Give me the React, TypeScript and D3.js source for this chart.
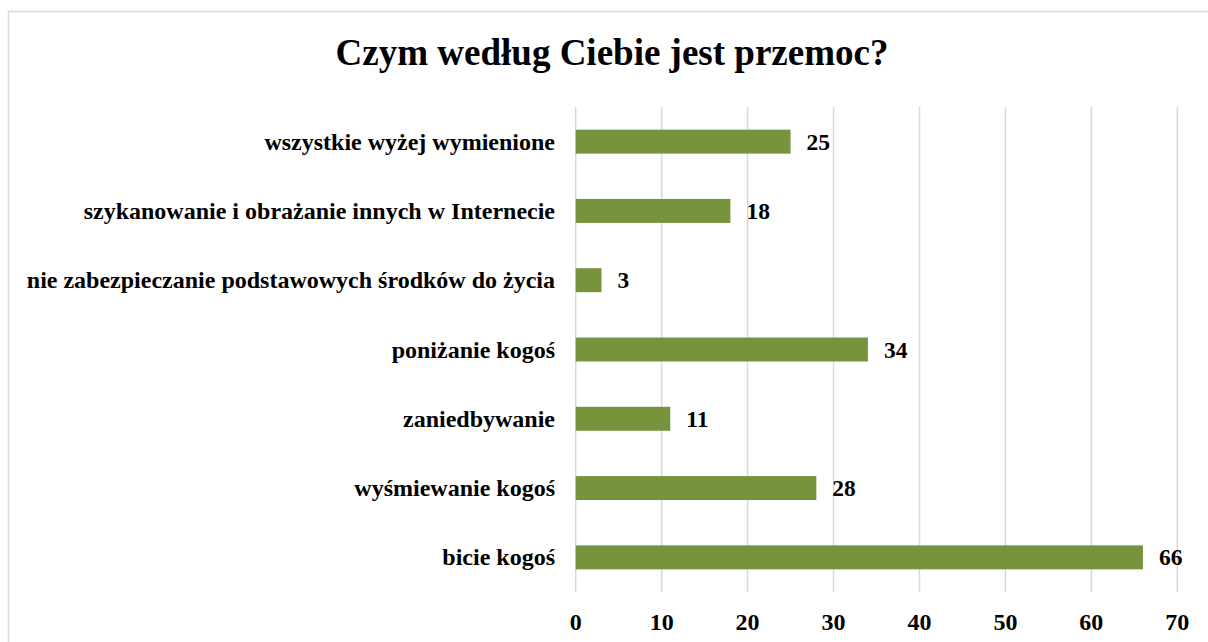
import { useEffect, useRef } from "react";
import * as d3 from "d3";

// Chart data (bottom to top as in the picture)
const categories = [
  "bicie kogoś",
  "wyśmiewanie kogoś",
  "zaniedbywanie",
  "poniżanie kogoś",
  "nie zabezpieczanie podstawowych środków do życia",
  "szykanowanie i obrażanie innych w Internecie",
  "wszystkie wyżej wymienione",
];
const values = [66, 28, 11, 34, 3, 18, 25];
const ticks = [0, 10, 20, 30, 40, 50, 60, 70];
const title = "Czym według Ciebie jest przemoc?";

export default function App() {
  const svgRef = useRef<SVGSVGElement>(null);

  useEffect(() => {
    const width = 1208;
    const height = 642;
    const font = "'Liberation Serif', 'Times New Roman', serif";

    // plot area
    const left = 575.7,
      right = 1177.3,
      top = 107,
      bottom = 592;

    const svg = d3.select(svgRef.current).attr("width", width).attr("height", height);
    svg.selectAll("*").remove();

    // chart border (runs off the right/bottom edge)
    svg
      .append("rect")
      .attr("x", 8.5)
      .attr("y", 11.5)
      .attr("width", width + 20)
      .attr("height", height + 20)
      .attr("fill", "white")
      .attr("stroke", "#d9d9d9")
      .attr("stroke-width", 1.5);

    const x = d3.scaleLinear().domain([0, 70]).range([left, right]);
    const y = d3
      .scaleBand()
      .domain([...categories].reverse())
      .range([top, bottom])
      .paddingInner(0.654)
      .paddingOuter(0.327);

    // gridlines
    svg
      .append("g")
      .selectAll("line")
      .data(ticks)
      .join("line")
      .attr("x1", (d) => x(d))
      .attr("x2", (d) => x(d))
      .attr("y1", top)
      .attr("y2", bottom)
      .attr("stroke", "#d9d9d9")
      .attr("stroke-width", 1.5);

    // tick labels
    svg
      .append("g")
      .selectAll("text")
      .data(ticks)
      .join("text")
      .attr("x", (d) => x(d))
      .attr("y", 630)
      .attr("text-anchor", "middle")
      .attr("font-family", font)
      .attr("font-weight", "bold")
      .attr("font-size", 24)
      .text((d) => d);

    // bars
    svg
      .append("g")
      .selectAll("rect")
      .data(values)
      .join("rect")
      .attr("x", x(0))
      .attr("y", (_, i) => y(categories[i])!)
      .attr("width", (d) => x(d) - x(0))
      .attr("height", y.bandwidth())
      .attr("fill", "#77933c");

    // value labels
    svg
      .append("g")
      .selectAll("text")
      .data(values)
      .join("text")
      .attr("x", (d) => x(d) + 16)
      .attr("y", (_, i) => y(categories[i])! + y.bandwidth() / 2 + 8)
      .attr("font-family", font)
      .attr("font-weight", "bold")
      .attr("font-size", 23.5)
      .text((d) => d);

    // category labels
    svg
      .append("g")
      .selectAll("text")
      .data(categories)
      .join("text")
      .attr("x", 555)
      .attr("y", (d) => y(d)! + y.bandwidth() / 2 + 8)
      .attr("text-anchor", "end")
      .attr("font-family", font)
      .attr("font-weight", "bold")
      .attr("font-size", 24)
      .text((d) => d);

    // title
    svg
      .append("text")
      .attr("x", 612)
      .attr("y", 65)
      .attr("text-anchor", "middle")
      .attr("font-family", font)
      .attr("font-weight", "bold")
      .attr("font-size", 37)
      .text(title);
  }, []);

  return <svg ref={svgRef} style={{ position: "absolute", left: 0, top: 0, display: "block" }}></svg>;
}
